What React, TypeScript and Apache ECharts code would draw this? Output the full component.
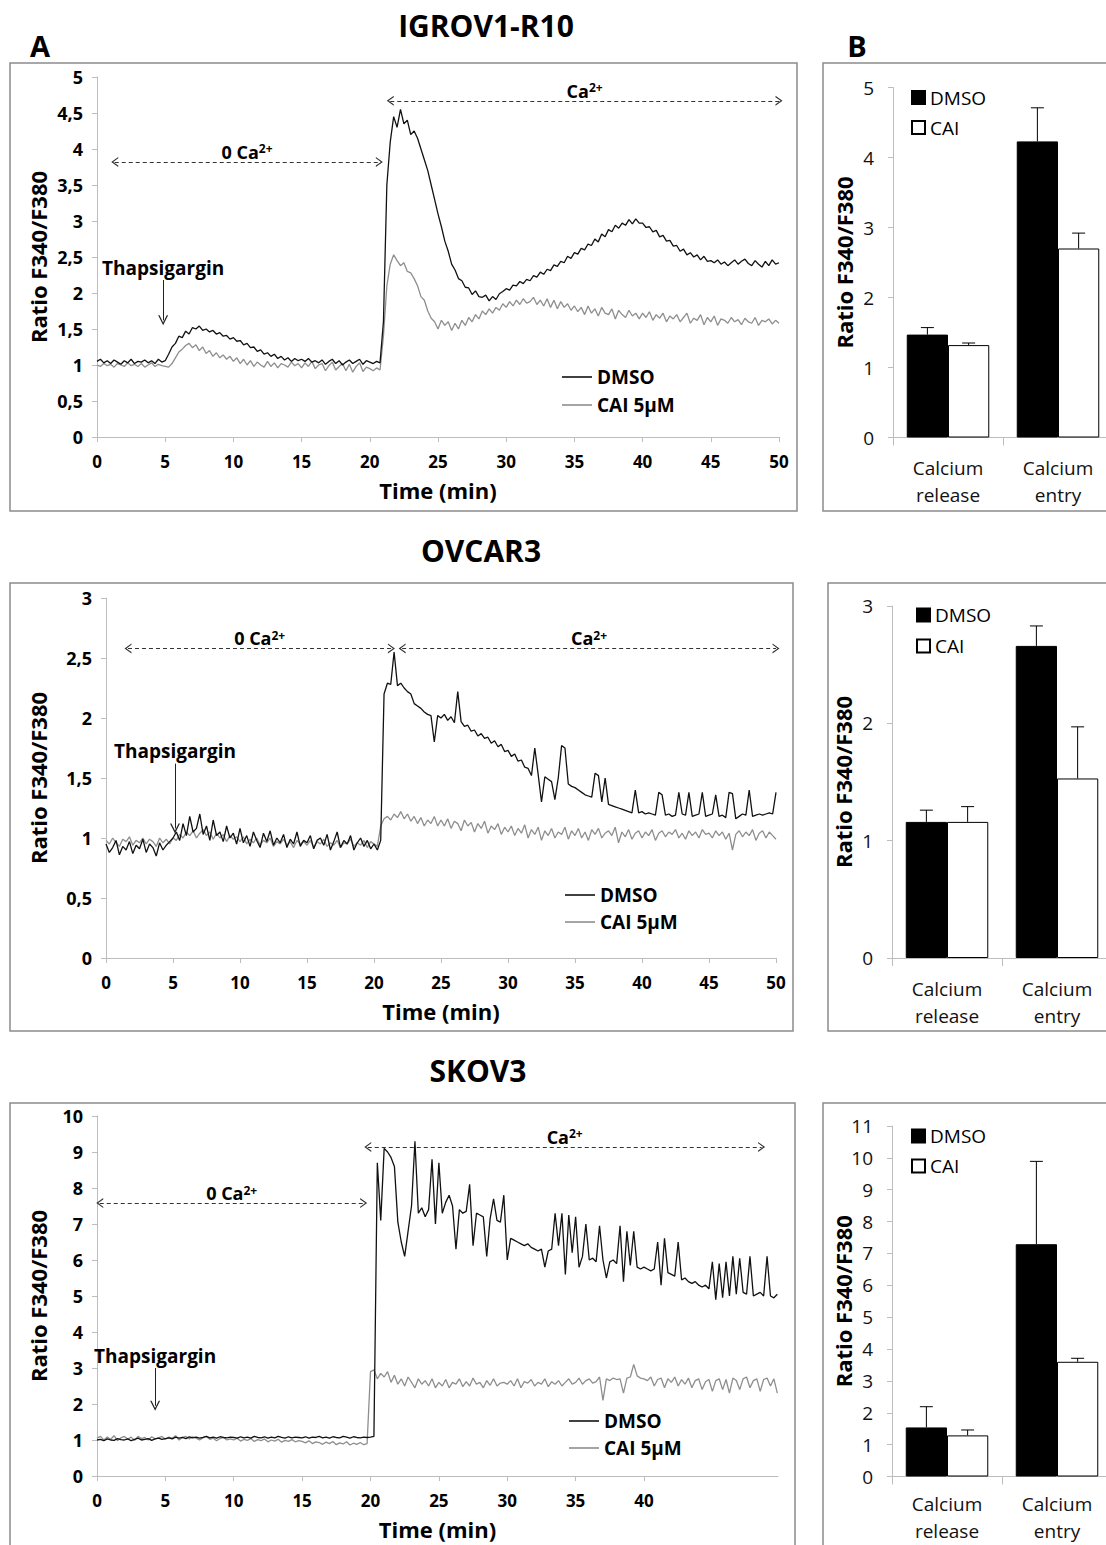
import React, { useEffect, useRef } from "react";
import * as echarts from "echarts";

const FONT = "'Open Sans', 'DejaVu Sans', sans-serif";
const TIME_STEP = 0.25; // minutes between samples

// ---------- IGROV1-R10 traces (0 .. 50 min, every 0.25 min) ----------
const IGROV_DMSO = [
  1.05, 1.08, 1.03, 1.06, 1.02, 1.07, 1.04, 1.01, 1.06, 1.03, 1.08, 1.02, 1.05, 1.04, 1.07, 1.03, 1.06, 1.02, 1.08, 1.04,
  1.06, 1.15, 1.25, 1.3, 1.4, 1.38, 1.47, 1.43, 1.52, 1.5, 1.54, 1.48, 1.5, 1.46, 1.48, 1.43, 1.45, 1.4, 1.41, 1.36,
  1.38, 1.33, 1.34, 1.28, 1.3, 1.24, 1.25, 1.19, 1.21, 1.15, 1.17, 1.12, 1.15, 1.09, 1.12, 1.07, 1.1, 1.05, 1.09, 1.06,
  1.08, 1.05, 1.09, 1.04, 1.06, 1.03, 1.07, 1.01, 1.05, 1.08, 1.02, 1.06, 1.0, 1.04, 1.07, 1.02, 1.05, 1.08, 1.01, 1.06,
  1.04, 1.02, 1.05, 1.03, 1.6, 3.5, 4.1, 4.45, 4.3, 4.55, 4.35, 4.4, 4.2, 4.25, 4.15, 4.0, 3.85, 3.7, 3.5, 3.3,
  3.1, 2.92, 2.72, 2.58, 2.4, 2.32, 2.2, 2.17, 2.08, 2.07, 1.98, 2.03, 1.95, 1.94, 1.97, 1.89, 1.95, 1.91, 1.99, 2.02,
  2.06, 2.04, 2.11, 2.1, 2.16, 2.13, 2.19, 2.17, 2.24, 2.22, 2.29, 2.26, 2.33, 2.31, 2.39, 2.37, 2.44, 2.42, 2.51, 2.48,
  2.56, 2.54, 2.62, 2.6, 2.68, 2.66, 2.75, 2.71, 2.82, 2.78, 2.88, 2.85, 2.94, 2.9, 2.97, 2.94, 3.02, 2.96, 3.03, 2.97,
  2.97, 2.91, 2.92, 2.85, 2.87, 2.78, 2.8, 2.72, 2.73, 2.65, 2.66, 2.58, 2.61, 2.53, 2.56, 2.5, 2.53, 2.46, 2.51, 2.44,
  2.45, 2.42, 2.46, 2.4, 2.43, 2.38, 2.42, 2.46, 2.4, 2.44, 2.47, 2.41, 2.38, 2.45, 2.4, 2.36, 2.44, 2.38, 2.46, 2.4,
  2.42,
];
const IGROV_CAI = [
  1.0, 0.98, 1.02, 0.99, 1.01, 0.97, 1.02, 1.0, 0.98, 1.03, 0.99, 1.01, 0.98, 1.02, 0.97, 1.0, 1.03, 0.98, 1.01, 0.99,
  0.98, 0.97, 1.02, 1.1, 1.18, 1.22, 1.27, 1.3, 1.24, 1.28, 1.2, 1.25, 1.16, 1.2, 1.12, 1.17, 1.1, 1.14, 1.08, 1.12,
  1.05, 1.1, 1.02, 1.08, 1.0, 1.06, 0.98, 1.04, 1.0, 0.97, 1.05, 0.98, 1.03, 0.96, 1.02, 1.0, 0.97, 1.04, 0.99, 1.02,
  0.96, 1.03, 0.98, 1.05, 0.95, 1.0, 1.02, 0.92, 0.99, 1.04, 0.93, 0.98, 1.02, 0.92, 1.01, 0.9, 0.98, 1.03, 0.91, 0.97,
  0.95, 0.92, 0.96, 0.93, 1.4, 2.1, 2.4, 2.53, 2.45, 2.38, 2.42, 2.3, 2.28, 2.2, 2.1, 1.95, 1.9, 1.75, 1.65, 1.6,
  1.5, 1.62, 1.55, 1.6, 1.48, 1.58, 1.5, 1.62, 1.55, 1.66, 1.6, 1.7, 1.64, 1.75, 1.7, 1.78, 1.72, 1.8, 1.76, 1.85,
  1.8, 1.88, 1.82, 1.9, 1.84, 1.92, 1.86, 1.88, 1.94, 1.84, 1.9, 1.82, 1.92, 1.8, 1.9, 1.78, 1.88, 1.8, 1.85, 1.76,
  1.82, 1.74, 1.8, 1.7, 1.82, 1.72, 1.78, 1.68, 1.8, 1.72, 1.7, 1.78, 1.64, 1.76, 1.7, 1.66, 1.76, 1.68, 1.72, 1.64,
  1.72, 1.66, 1.74, 1.62, 1.7, 1.65, 1.72, 1.6, 1.68, 1.64, 1.7, 1.6, 1.66, 1.72, 1.58, 1.65, 1.62, 1.7, 1.56, 1.66,
  1.6, 1.68, 1.55, 1.64, 1.62, 1.58, 1.66, 1.6, 1.63, 1.56, 1.65, 1.6, 1.58, 1.66, 1.55, 1.62, 1.6, 1.64, 1.57, 1.62,
  1.58,
];

// ---------- OVCAR3 traces (0 .. 50 min) ----------
const OVCAR_DMSO = [
  0.95, 0.88, 0.92, 0.98, 0.86, 0.93, 0.9, 0.97, 0.87, 0.94, 0.91, 0.99, 0.88, 0.95, 0.92, 0.85, 0.96, 0.9, 0.94, 0.97,
  1.0, 1.05, 0.98, 1.12, 1.02, 1.18, 1.05, 1.08, 1.2, 1.03, 1.1, 0.98, 1.15, 1.02, 1.05, 0.97, 1.1, 1.0, 1.04, 0.95,
  1.08, 0.96, 1.02, 0.93, 1.05, 0.98, 0.92, 1.04, 0.97, 1.06, 0.94, 1.0, 0.96, 1.03, 0.92, 0.99, 0.95, 1.05, 0.93, 0.98,
  0.96, 1.02, 0.91, 0.98, 1.0, 0.94, 1.03, 0.9, 0.97, 1.05, 0.92, 0.98, 0.95, 1.02, 0.9, 0.96, 1.0, 0.93, 0.98, 0.91,
  0.95, 0.9, 0.98, 2.2, 2.29, 2.28, 2.55, 2.27, 2.29, 2.25, 2.22, 2.2, 2.12, 2.1, 2.08, 2.05, 2.03, 2.02, 1.8, 2.02,
  2.0, 2.03, 1.98, 2.01, 1.96, 2.22, 1.97, 1.93, 1.94, 1.89, 1.9, 1.85, 1.87, 1.83, 1.84, 1.79, 1.81, 1.76, 1.78, 1.72,
  1.73, 1.68, 1.7, 1.64, 1.65, 1.59, 1.58, 1.52, 1.75, 1.53, 1.3, 1.51, 1.49, 1.47, 1.32, 1.5, 1.77, 1.75, 1.45, 1.43,
  1.42, 1.4, 1.38, 1.36, 1.35, 1.34, 1.54, 1.52, 1.3, 1.5, 1.28, 1.27, 1.26, 1.25, 1.24, 1.23, 1.22, 1.21, 1.4, 1.21,
  1.22, 1.2, 1.21, 1.2, 1.19, 1.38, 1.36, 1.19, 1.2, 1.18, 1.19, 1.38, 1.2, 1.19, 1.38, 1.18, 1.19, 1.2, 1.38, 1.18,
  1.19, 1.2, 1.36, 1.18, 1.19, 1.17, 1.38, 1.37, 1.16, 1.18, 1.2, 1.19, 1.4, 1.18, 1.19, 1.2, 1.19, 1.2, 1.21, 1.2,
  1.38,
];
const OVCAR_CAI = [
  0.98, 0.95, 1.0, 0.96, 0.93, 0.99, 0.97, 1.01, 0.94, 0.98, 0.96, 1.0, 0.95, 0.99, 0.97, 0.93, 1.0, 0.96, 0.99, 0.95,
  1.0, 0.98, 1.03, 1.0, 1.05, 1.02, 1.06, 1.0, 1.04, 1.07, 1.02, 1.05, 0.99, 1.04, 1.0, 1.03, 0.97, 1.02, 0.99, 1.01,
  0.97, 1.01, 0.95, 0.99, 0.96, 1.0, 0.94, 0.98, 0.96, 1.0, 0.93, 0.97, 0.95, 0.99, 0.94, 0.97, 0.92, 0.98, 0.95, 0.97,
  0.94, 0.98, 0.92, 0.97, 0.95, 0.99, 0.93, 0.96, 0.94, 0.98, 0.92, 0.96, 0.95, 0.99, 0.93, 0.96, 0.94, 0.98, 0.92, 0.97,
  0.95, 0.93, 1.1, 1.16, 1.18, 1.15, 1.2, 1.17, 1.22, 1.16, 1.2, 1.14, 1.18, 1.12, 1.17, 1.1, 1.15, 1.12, 1.18, 1.1,
  1.15, 1.1, 1.16, 1.08, 1.14, 1.12, 1.06, 1.15, 1.1, 1.13, 1.05, 1.12, 1.08, 1.14, 1.04, 1.1, 1.07, 1.12, 1.03, 1.09,
  1.05, 1.1, 1.02, 1.08, 1.04, 1.11, 1.0, 1.07, 1.03, 1.09, 0.98, 1.06, 1.02, 1.08, 1.0, 1.05, 1.03, 1.09, 0.99, 1.06,
  1.02, 1.08, 1.0, 1.05, 0.98, 1.07, 1.03, 1.08, 1.0, 1.04, 1.06, 1.02, 1.09, 0.96, 1.05, 1.01, 1.07, 0.99, 1.04, 1.06,
  1.0, 1.05, 1.02, 1.07, 0.98, 1.04, 1.06, 1.01, 1.05, 1.03, 1.07, 1.0, 1.04, 0.99, 1.06, 1.02, 1.05, 1.0, 1.07, 1.03,
  1.04, 1.0, 1.06, 1.02, 1.05, 0.99, 1.04, 0.9, 1.03, 1.06, 1.01, 1.05, 1.02, 1.07, 0.98, 1.04, 1.06, 1.0, 1.05, 1.02,
  0.99,
];

// ---------- SKOV3 traces (0 .. 49.75 min) ----------
const SKOV_DMSO = [
  1.0, 1.02, 0.98, 1.03, 1.0, 0.99, 1.04, 1.01, 1.0, 1.03, 0.98, 1.02, 1.05, 1.0, 1.02, 1.04, 0.99, 1.03, 1.05, 1.02,
  1.04, 1.06, 1.03, 1.08, 1.05, 1.07, 1.04, 1.09, 1.06, 1.08, 1.05, 1.07, 1.1, 1.06, 1.08, 1.05, 1.09, 1.07, 1.06, 1.08,
  1.07, 1.05, 1.09, 1.06, 1.08, 1.05, 1.1, 1.07, 1.06, 1.09, 1.05, 1.08, 1.06, 1.1, 1.07, 1.05, 1.09, 1.06, 1.08, 1.07,
  1.06, 1.09, 1.05, 1.08, 1.07, 1.1, 1.06, 1.08, 1.05, 1.09, 1.07, 1.06, 1.1, 1.08, 1.05, 1.09, 1.07, 1.06, 1.08, 1.07,
  1.08, 1.1, 8.7, 7.1, 9.1, 9.0, 8.85, 8.6, 7.05, 6.5, 6.1, 6.8, 7.5, 9.3, 7.3, 7.45, 7.2, 7.4, 8.8, 7.0,
  8.7, 7.3, 7.6, 7.8, 7.5, 6.3, 7.4, 7.3, 7.35, 8.1, 6.4, 7.3, 7.25, 7.2, 6.1, 7.15, 7.7, 7.1, 7.05, 7.8,
  6.0, 6.6, 6.55, 6.5, 6.45, 6.4, 6.45, 6.35, 6.3, 6.25, 6.3, 5.8, 6.25, 6.3, 7.3, 6.4, 7.3, 5.6, 7.25, 6.2,
  7.2, 5.8, 6.1, 7.0, 6.0, 6.05, 5.95, 6.95, 6.0, 5.5, 5.95, 6.0, 5.9, 6.95, 5.4, 6.8, 5.85, 6.8, 5.8, 5.75,
  5.8, 5.75, 5.7, 5.75, 6.5, 5.3, 6.6, 5.65, 5.6, 5.55, 6.5, 5.45, 5.5, 5.4, 5.35, 5.4, 5.3, 5.25, 5.3, 5.2,
  5.95, 4.9, 5.9, 4.95, 5.95, 5.0, 6.1, 5.05, 6.05, 5.1, 5.05, 6.1, 5.0, 5.05, 5.1, 5.0, 6.1, 5.0, 4.95, 5.05,
];
const SKOV_CAI = [
  1.05, 1.1, 1.0, 1.08, 1.02, 1.12, 0.98, 1.06, 1.1, 1.02, 1.08, 0.99, 1.1, 1.04, 1.07, 1.0, 1.09, 1.03, 1.06, 1.1,
  1.02, 1.08, 1.05, 1.12, 1.0, 1.07, 1.1, 1.03, 1.09, 1.05, 1.0, 1.06, 1.1, 1.02, 1.05, 0.98, 1.04, 1.07, 1.0, 1.03,
  1.0, 1.05, 0.97, 1.02, 0.99, 1.04, 0.96, 1.01, 0.98, 1.03, 0.95, 1.0, 0.97, 1.02, 0.94, 0.99, 0.96, 1.01, 0.95, 0.98,
  0.96, 0.92, 0.98, 0.9, 0.95, 0.93, 0.88, 0.94, 0.9, 0.96, 0.87, 0.92, 0.89, 0.95, 0.86, 0.91, 0.88, 0.93, 0.87, 0.9,
  2.9, 2.95, 2.7, 2.85, 2.75, 2.9, 2.6, 2.8, 2.55, 2.7, 2.5, 2.75, 2.6, 2.45, 2.7, 2.55, 2.65, 2.5, 2.7, 2.45,
  2.6, 2.5, 2.68, 2.45, 2.6, 2.55, 2.7, 2.48, 2.62, 2.5, 2.72, 2.55, 2.6, 2.45, 2.65, 2.52, 2.7, 2.5, 2.58, 2.6,
  2.55, 2.65, 2.5, 2.7, 2.45, 2.62, 2.58, 2.68, 2.5, 2.6, 2.55, 2.7, 2.48, 2.62, 2.55, 2.65, 2.5, 2.6, 2.7, 2.55,
  2.6, 2.72, 2.55, 2.65, 2.7, 2.58, 2.62, 2.75, 2.1, 2.7, 2.65, 2.72, 2.68, 2.7, 2.3, 2.72, 2.75, 3.1, 2.78, 2.72,
  2.7, 2.65, 2.75, 2.5, 2.68, 2.72, 2.45, 2.7, 2.6, 2.75, 2.5, 2.68, 2.55, 2.72, 2.45, 2.65, 2.7, 2.4, 2.62, 2.68,
  2.35, 2.65, 2.7, 2.4, 2.68, 2.3, 2.72, 2.65, 2.4, 2.7, 2.75, 2.45, 2.65, 2.7, 2.35, 2.68, 2.72, 2.5, 2.7, 2.3,
];

// ---------- Bar panels (B) ----------
const BAR_CATEGORIES = ["Calcium\nrelease", "Calcium\nentry"];
const IGROV_BAR_DMSO = [1.47, 4.23];
const IGROV_BAR_DMSO_SEM = [0.1, 0.48];
const IGROV_BAR_CAI = [1.32, 2.7];
const IGROV_BAR_CAI_SEM = [0.03, 0.22];
const OVCAR_BAR_DMSO = [1.16, 2.66];
const OVCAR_BAR_DMSO_SEM = [0.1, 0.17];
const OVCAR_BAR_CAI = [1.16, 1.53];
const OVCAR_BAR_CAI_SEM = [0.13, 0.44];
const SKOV_BAR_DMSO = [1.54, 7.29];
const SKOV_BAR_DMSO_SEM = [0.65, 2.6];
const SKOV_BAR_CAI = [1.29, 3.6];
const SKOV_BAR_CAI_SEM = [0.17, 0.11];

const SKOV_X_TICKS = [0, 5, 10, 15, 20, 25, 30, 35, 40, 45];
const LINE_LEGEND = ["DMSO", "CAI 5µM"];
const BAR_LEGEND = ["DMSO bars", "CAI bars"];

const CHEVRON = "path://M0,10L5,0L10,10L8.6,10L5,2.8L1.4,10Z";
const AXIS_GREY = "#bdbdbd";

const LINE_PANELS = [
  {
    title: "IGROV1-R10",
    grid: [97, 77, 682, 360],
    xMax: 50,
    yMax: 5,
    yInt: 0.5,
    yNameGap: 48,
    dmso: IGROV_DMSO,
    cai: IGROV_CAI,
    legend: [562, 367.5, 9],
    zero: [1.3, 20.7, 3.82],
    ca: [21.5, 50, 4.67],
    thaps: [4.85, 2.18, 1.62],
  },
  {
    title: "OVCAR3",
    grid: [106, 598, 670, 360],
    xMax: 50,
    yMax: 3,
    yInt: 0.5,
    yNameGap: 57,
    dmso: OVCAR_DMSO,
    cai: OVCAR_CAI,
    legend: [565, 885.5, 8],
    zero: [1.64, 21.3, 2.58],
    ca: [22.1, 50, 2.58],
    thaps: [5.15, 1.62, 1.08],
  },
  {
    title: "SKOV3",
    grid: [97, 1116, 681, 360],
    xMax: 49.8,
    yMax: 10,
    yInt: 1,
    yNameGap: 48,
    dmso: SKOV_DMSO,
    cai: SKOV_CAI,
    legend: [569, 1411.5, 8],
    zero: [0.2, 19.5, 7.58],
    ca: [19.8, 48.6, 9.14],
    thaps: [4.25, 3.0, 1.95],
  },
];

const BAR_PANELS = [
  { grid: [893, 87.5, 220, 350], yMax: 5, labelMargin: 17, dmso: IGROV_BAR_DMSO, dmsoSem: IGROV_BAR_DMSO_SEM, cai: IGROV_BAR_CAI, caiSem: IGROV_BAR_CAI_SEM, legend: [911, 88, 11] },
  { grid: [892, 606, 220, 352], yMax: 3, labelMargin: 17, dmso: OVCAR_BAR_DMSO, dmsoSem: OVCAR_BAR_DMSO_SEM, cai: OVCAR_BAR_CAI, caiSem: OVCAR_BAR_CAI_SEM, legend: [916, 605.5, 12] },
  { grid: [892, 1126, 220, 350.5], yMax: 11, labelMargin: 14, dmso: SKOV_BAR_DMSO, dmsoSem: SKOV_BAR_DMSO_SEM, cai: SKOV_BAR_CAI, caiSem: SKOV_BAR_CAI_SEM, legend: [911, 1126.5, 11] },
];

const toXY = (arr: number[]) => arr.map((v, i) => [i * TIME_STEP, v]);

const boldText = (size: number) => ({ fontSize: size, fontWeight: "bold" as const, fontFamily: FONT, color: "#000" });

function caLabel(txt: string) {
  return {
    show: true,
    position: "middle",
    distance: 1,
    formatter: () => `{n|${txt}}{s|2+}`,
    rich: {
      n: { fontSize: 18, fontWeight: "bold", fontFamily: FONT, color: "#000" },
      s: { fontSize: 12, fontWeight: "bold", fontFamily: FONT, color: "#000", verticalAlign: "top" },
    },
  };
}

function buildOption() {
  const grid: any[] = [];
  const xAxis: any[] = [];
  const yAxis: any[] = [];
  const series: any[] = [];
  const legend: any[] = [];

  LINE_PANELS.forEach((p) => {
    const gi = grid.length;
    grid.push({ left: p.grid[0], top: p.grid[1], width: p.grid[2], height: p.grid[3], containLabel: false, outerBoundsMode: "none" });
    const isShort = p.xMax !== 50;
    xAxis.push({
      gridIndex: gi,
      type: "value",
      min: 0,
      max: p.xMax,
      interval: 5,
      name: "Time (min)",
      nameLocation: "middle",
      nameGap: 42,
      nameMoveOverlap: false,
      nameTextStyle: boldText(22),
      axisLine: { show: true, lineStyle: { color: AXIS_GREY, width: 1 } },
      axisTick: isShort
        ? { show: true, length: 5, lineStyle: { color: AXIS_GREY }, customValues: SKOV_X_TICKS }
        : { show: true, length: 5, lineStyle: { color: AXIS_GREY } },
      splitLine: { show: false },
      axisLabel: isShort
        ? { ...boldText(17), margin: 16, showMaxLabel: false, customValues: SKOV_X_TICKS }
        : { ...boldText(17), margin: 16 },
    });
    yAxis.push({
      gridIndex: gi,
      type: "value",
      min: 0,
      max: p.yMax,
      interval: p.yInt,
      name: "Ratio F340/F380",
      nameLocation: "middle",
      nameGap: p.yNameGap,
      nameMoveOverlap: false,
      nameTextStyle: boldText(22),
      axisLine: { show: true, lineStyle: { color: AXIS_GREY, width: 1 } },
      axisTick: { show: true, length: 5, lineStyle: { color: AXIS_GREY } },
      splitLine: { show: false },
      axisLabel: { ...boldText(18), margin: 14, formatter: (v: number) => String(v).replace(".", ",") },
    });
    series.push({
      name: "CAI 5µM",
      type: "line",
      xAxisIndex: gi,
      yAxisIndex: gi,
      data: toXY(p.cai),
      symbol: "none",
      showSymbol: false,
      lineStyle: { color: "#8e8e8e", width: 1.3 },
      itemStyle: { color: "#8e8e8e" },
      z: 2,
    });
    series.push({
      name: "DMSO",
      type: "line",
      xAxisIndex: gi,
      yAxisIndex: gi,
      data: toXY(p.dmso),
      symbol: "none",
      showSymbol: false,
      lineStyle: { color: "#111", width: 1.3 },
      itemStyle: { color: "#111" },
      z: 3,
      markLine: {
        silent: true,
        animation: false,
        symbol: ["none", "none"],
        data: [
          [
            { coord: [p.zero[0], p.zero[2]], symbol: CHEVRON, symbolSize: [10, 7], lineStyle: { type: [4, 3], color: "#333", width: 1.2 }, label: caLabel("0 Ca") },
            { coord: [p.zero[1], p.zero[2]], symbol: CHEVRON, symbolSize: [10, 7] },
          ],
          [
            { coord: [p.ca[0], p.ca[2]], symbol: CHEVRON, symbolSize: [10, 7], lineStyle: { type: [4, 3], color: "#333", width: 1.2 }, label: caLabel("Ca") },
            { coord: [p.ca[1], p.ca[2]], symbol: CHEVRON, symbolSize: [10, 7] },
          ],
          [
            {
              coord: [p.thaps[0], p.thaps[1]],
              symbol: "none",
              lineStyle: { type: "solid", color: "#222", width: 1 },
              label: { show: true, position: "start", distance: 3, formatter: "Thapsigargin", ...boldText(19) },
            },
            { coord: [p.thaps[0], p.thaps[2]], symbol: CHEVRON, symbolSize: [10, 10] },
          ],
        ],
      },
    });
    legend.push({
      orient: "vertical",
      left: p.legend[0],
      top: p.legend[1],
      padding: 0,
      itemGap: p.legend[2],
      itemWidth: 30,
      itemHeight: 1.6,
      icon: "rect",
      selectedMode: false,
      data: LINE_LEGEND,
      textStyle: boldText(19),
    });
  });

  BAR_PANELS.forEach((p) => {
    const gi = grid.length;
    grid.push({ left: p.grid[0], top: p.grid[1], width: p.grid[2], height: p.grid[3], containLabel: false, outerBoundsMode: "none" });
    xAxis.push({
      gridIndex: gi,
      type: "category",
      data: BAR_CATEGORIES,
      axisLine: { show: true, lineStyle: { color: AXIS_GREY, width: 1 } },
      axisTick: { show: true, length: 8, alignWithLabel: false, lineStyle: { color: AXIS_GREY } },
      axisLabel: { fontSize: 19, fontFamily: FONT, color: "#111", lineHeight: 27, margin: p.labelMargin, interval: 0 },
    });
    yAxis.push({
      gridIndex: gi,
      type: "value",
      min: 0,
      max: p.yMax,
      interval: 1,
      name: "Ratio F340/F380",
      nameLocation: "middle",
      nameGap: 38,
      nameMoveOverlap: false,
      nameTextStyle: boldText(22),
      axisLine: { show: true, lineStyle: { color: AXIS_GREY, width: 1 } },
      axisTick: { show: true, length: 5, lineStyle: { color: AXIS_GREY } },
      splitLine: { show: false },
      axisLabel: { fontSize: 19, fontFamily: FONT, color: "#111", margin: 19 },
    });
    series.push({
      name: "DMSO bars",
      type: "bar",
      xAxisIndex: gi,
      yAxisIndex: gi,
      data: p.dmso,
      barGap: "0%",
      barCategoryGap: "25%",
      itemStyle: { color: "#000", borderColor: "#000", borderWidth: 1 },
      z: 2,
    });
    series.push({
      name: "CAI bars",
      type: "bar",
      xAxisIndex: gi,
      yAxisIndex: gi,
      data: p.cai,
      barGap: "0%",
      barCategoryGap: "25%",
      itemStyle: { color: "#fff", borderColor: "#000", borderWidth: 1 },
      z: 2,
    });
    const errData: number[][] = [];
    p.dmso.forEach((m, i) => errData.push([i, m, m + p.dmsoSem[i], -1]));
    p.cai.forEach((m, i) => errData.push([i, m, m + p.caiSem[i], 1]));
    series.push({
      name: "error",
      type: "custom",
      xAxisIndex: gi,
      yAxisIndex: gi,
      data: errData,
      encode: { x: 0, y: 2 },
      z: 5,
      silent: true,
      renderItem: (params: any, api: any) => {
        const cat = api.value(0);
        const mean = api.value(1);
        const top = api.value(2);
        const side = api.value(3);
        const band = api.size([1, 0])[0];
        const barW = (band * 0.75) / 2;
        const base = api.coord([cat, mean]);
        const hi = api.coord([cat, top]);
        const x = base[0] + (side * barW) / 2;
        return {
          type: "group",
          children: [
            { type: "line", shape: { x1: x, y1: base[1], x2: x, y2: hi[1] }, style: { stroke: "#000", lineWidth: 1 } },
            { type: "line", shape: { x1: x - 6.5, y1: hi[1], x2: x + 6.5, y2: hi[1] }, style: { stroke: "#000", lineWidth: 1 } },
          ],
        };
      },
    });
    legend.push({
      orient: "vertical",
      left: p.legend[0],
      top: p.legend[1],
      padding: 0,
      itemGap: p.legend[2],
      itemWidth: 13,
      itemHeight: 13,
      icon: "rect",
      selectedMode: false,
      data: BAR_LEGEND,
      formatter: (n: string) => n.replace(" bars", ""),
      textStyle: { fontSize: 19, fontFamily: FONT, color: "#000" },
    });
  });

  const frame = (x: number, y: number, w: number, h: number) => ({
    type: "rect",
    silent: true,
    z: 0,
    shape: { x, y, width: w, height: h },
    style: { fill: "none", stroke: "#8c8c8c", lineWidth: 1.5 },
  });
  const label = (txt: string, x: number, y: number, size: number) => ({
    type: "text",
    silent: true,
    x,
    y,
    style: { text: txt, fontSize: size, fontWeight: "bold", fontFamily: FONT, fill: "#000", align: "center", verticalAlign: "middle" },
  });

  const graphic = [
    frame(10, 63, 787, 448),
    frame(823, 63, 300, 448),
    frame(10, 583, 783, 448),
    frame(828, 583, 300, 448),
    frame(10, 1103, 785, 460),
    frame(823, 1103, 300, 460),
    label(LINE_PANELS[0].title, 486, 25, 30),
    label(LINE_PANELS[1].title, 481, 550, 30),
    label(LINE_PANELS[2].title, 478, 1070, 30),
    label("A", 40, 45, 29),
    label("B", 857, 45, 29),
  ];

  return {
    animation: false,
    backgroundColor: "#fff",
    textStyle: { fontFamily: FONT },
    grid,
    xAxis,
    yAxis,
    series,
    legend,
    graphic,
  };
}

export default function App() {
  const ref = useRef<HTMLDivElement>(null);
  useEffect(() => {
    if (!ref.current) return;
    const chart = echarts.init(ref.current, null, { renderer: "svg" });
    chart.setOption(buildOption() as any);
    return () => chart.dispose();
  }, []);
  return <div ref={ref} style={{ position: "absolute", left: 0, top: 0, width: 1106, height: 1545 }} />;
}
